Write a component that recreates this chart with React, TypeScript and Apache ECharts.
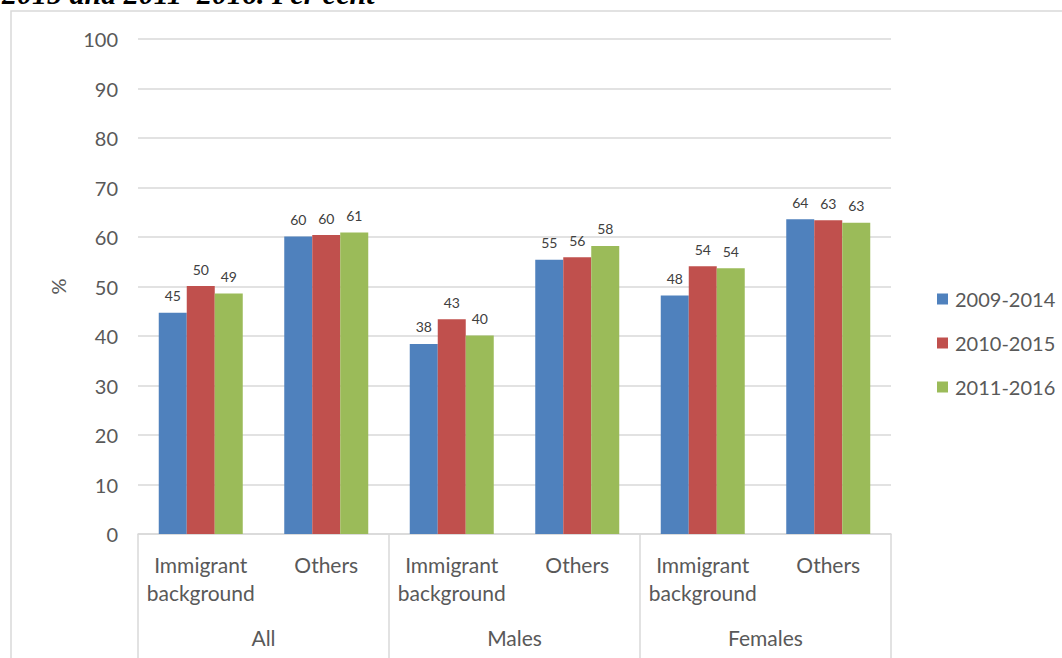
import React, { useEffect, useRef } from "react";
import * as echarts from "echarts";

const subCategories = [
  "Immigrant\nbackground",
  "Others",
  "Immigrant\nbackground",
  "Others",
  "Immigrant\nbackground",
  "Others",
];
const groups = ["All", "Males", "Females"];
const seriesNames = ["2009-2014", "2010-2015", "2011-2016"];
const values2009 = [44.7, 60.1, 38.4, 55.4, 48.2, 63.6];
const values2010 = [50.1, 60.4, 43.4, 55.9, 54.1, 63.4];
const values2011 = [48.6, 60.9, 40.1, 58.2, 53.7, 62.9];
const colors = ["#4F81BD", "#C0504D", "#9BBB59"];
const yTicks = { min: 0, max: 100, interval: 10 };

const FONT = "Lato, 'Open Sans', sans-serif";

export default function App() {
  const ref = useRef<HTMLDivElement>(null);
  useEffect(() => {
    if (!ref.current) return;
    const chart = echarts.init(ref.current, null, { renderer: "svg" });
    const allValues = [values2009, values2010, values2011];
    chart.setOption({
      animation: false,
      backgroundColor: "#ffffff",
      textStyle: { fontFamily: FONT },
      grid: { left: 138, right: 171, top: 39, bottom: 124, containLabel: false },
      legend: {
        orient: "vertical",
        left: 932,
        top: 284,
        itemWidth: 11,
        itemHeight: 11,
        itemGap: 24,
        icon: "rect",
        data: seriesNames,
        textStyle: {
          fontFamily: FONT,
          fontSize: 20,
          color: "#595959",
          lineHeight: 20,
          padding: [0, 0, 0, 2],
        },
      },
      xAxis: [
        {
          type: "category",
          data: subCategories,
          axisLine: { lineStyle: { color: "#d9d9d9", width: 1.5 } },
          axisTick: { show: false },
          axisLabel: {
            interval: 0,
            margin: 16,
            fontSize: 21,
            lineHeight: 28,
            color: "#595959",
            fontFamily: FONT,
          },
        },
        {
          type: "category",
          data: groups,
          position: "bottom",
          axisLine: { show: false },
          axisTick: { show: true, length: 130, lineStyle: { color: "#d9d9d9", width: 1.5 } },
          axisLabel: {
            interval: 0,
            margin: 89,
            fontSize: 21,
            lineHeight: 28,
            color: "#595959",
            fontFamily: FONT,
          },
        },
      ],
      yAxis: {
        type: "value",
        min: yTicks.min,
        max: yTicks.max,
        interval: yTicks.interval,
        name: "%",
        nameLocation: "middle",
        nameRotate: 90,
        nameGap: 70,
        nameTextStyle: { fontSize: 20, color: "#595959", fontFamily: FONT },
        axisLine: { show: false },
        axisTick: { show: false },
        axisLabel: { fontSize: 20, color: "#595959", margin: 20, fontFamily: FONT },
        splitLine: { lineStyle: { color: "#d9d9d9", width: 1.5 } },
      },
      series: seriesNames.map((name, i) => ({
        name,
        type: "bar",
        xAxisIndex: 0,
        data: allValues[i],
        barWidth: 28,
        barGap: "0%",
        itemStyle: { color: colors[i] },
        label: {
          show: true,
          position: "top",
          distance: 10,
          fontSize: 14,
          color: "#404040",
          fontFamily: FONT,
          formatter: (p: any) => String(Math.round(p.value)),
        },
      })),
      graphic: [
        {
          type: "rect",
          shape: { x: 11, y: 11, width: 1200, height: 800 },
          style: { fill: "none", stroke: "#d9d9d9", lineWidth: 1.5 },
          silent: true,
        },
        {
          type: "text",
          x: 2,
          y: 8,
          style: {
            text: "2015 and 2011–2016. Per cent",
            font: "italic bold 30px 'Liberation Serif', serif",
            fill: "#000000",
            verticalAlign: "bottom",
            align: "left",
          },
          silent: true,
        },
      ],
    });
    return () => chart.dispose();
  }, []);
  return (
    <div
      ref={ref}
      style={{ position: "fixed", left: 0, top: 0, width: 1062, height: 658 }}
    />
  );
}
